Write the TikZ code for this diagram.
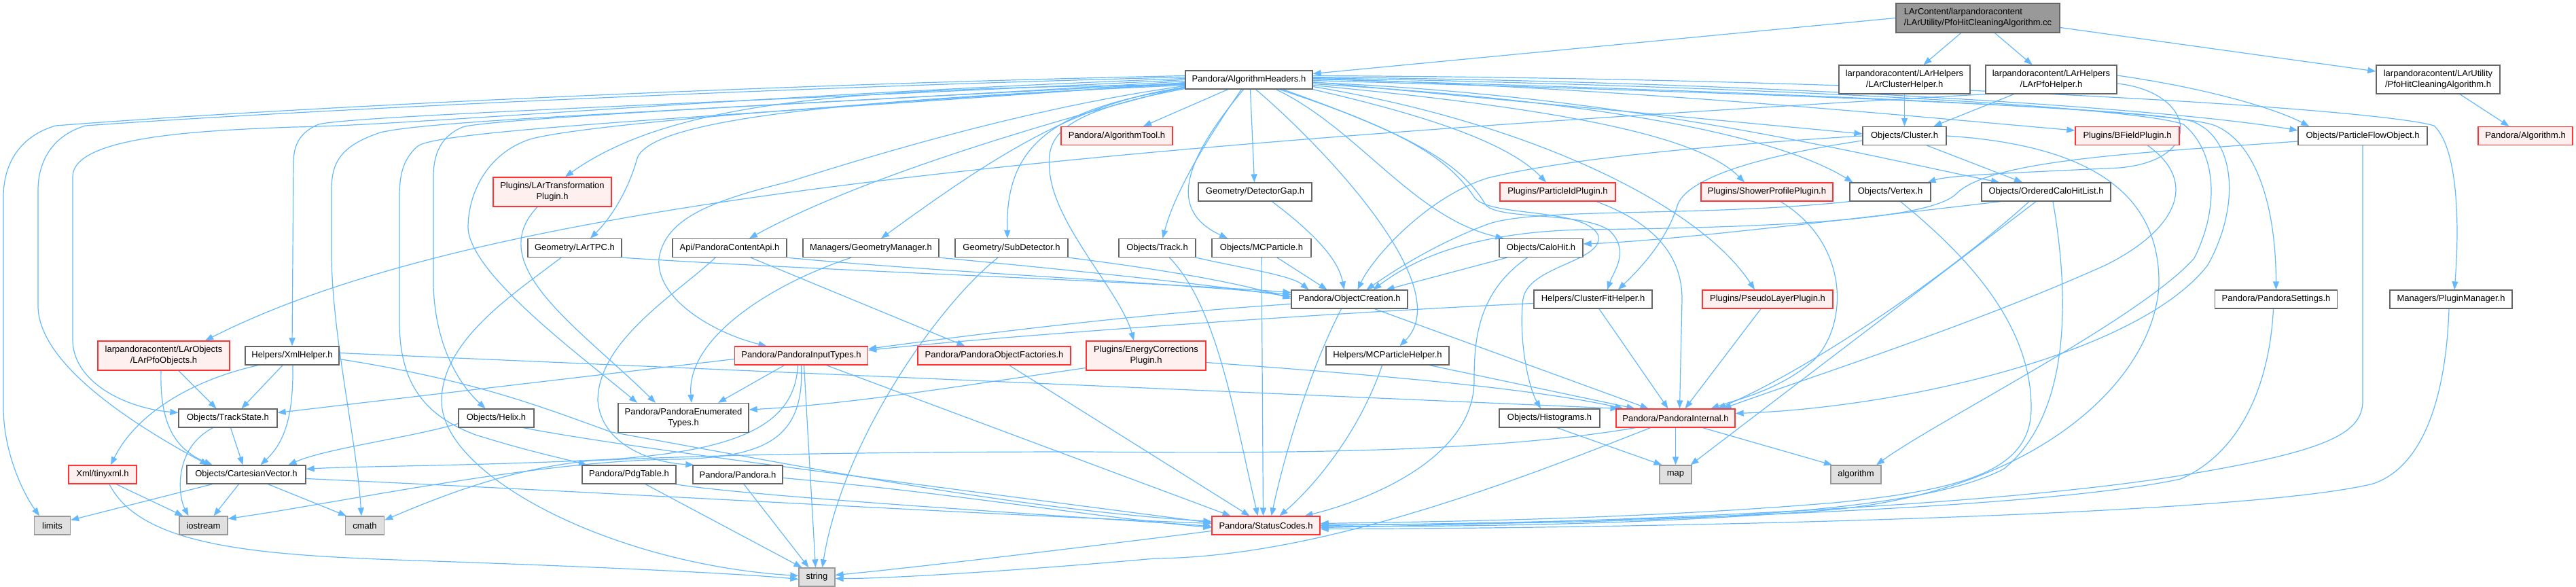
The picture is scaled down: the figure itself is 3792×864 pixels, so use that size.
\documentclass[tikz,border=0pt]{standalone}
\usepackage{fontspec}
\setmainfont{Liberation Sans}
\usetikzlibrary{arrows.meta}
\pgfdeclarelayer{edgelayer}
\pgfsetlayers{edgelayer,main}
\definecolor{edgec}{HTML}{63B8FF}
\definecolor{boxb}{HTML}{666666}
\definecolor{redb}{HTML}{FF3333}
\definecolor{redf}{HTML}{FFF0F0}
\definecolor{sysb}{HTML}{999999}
\definecolor{sysf}{HTML}{E0E0E0}
\definecolor{rootf}{HTML}{999999}
\begin{document}
\begin{tikzpicture}[x=1pt,y=-1pt,
  nb/.style={draw=boxb, fill=white, line width=1.3pt, inner sep=0pt, align=center, minimum height=27pt, font=\fontsize{13}{16}\selectfont},
  rb/.style={nb, draw=redb, fill=redf},
  sb/.style={nb, draw=sysb, fill=sysf},
  rtb/.style={nb, fill=rootf},
  ed/.style={draw=edgec, line width=1.2pt, -{Triangle[length=12pt,width=9pt]}},
]
\useasboundingbox (0,0) rectangle (3792,864);
% ---------- nodes ----------
\node[rtb, minimum width=241pt, minimum height=43pt, align=left] (root) at (2911.5,26.5) {LArContent/larpandoracontent\\/LArUtility/PfoHitCleaningAlgorithm.cc};
\node[nb, minimum width=187pt] (AH) at (1838.5,117.5) {Pandora/AlgorithmHeaders.h};
\node[nb, minimum width=193pt, minimum height=42pt] (CH) at (2803.5,117) {larpandoracontent/LArHelpers\\/LArClusterHelper.h};
\node[nb, minimum width=193pt, minimum height=42pt] (PH) at (3019.5,117) {larpandoracontent/LArHelpers\\/LArPfoHelper.h};
\node[nb, minimum width=182pt, minimum height=42pt] (PHA) at (3589,117) {larpandoracontent/LArUtility\\/PfoHitCleaningAlgorithm.h};
\node[rb, minimum width=164pt] (AT) at (1644,200) {Pandora/AlgorithmTool.h};
\node[nb, minimum width=123pt] (CL) at (2803.5,200) {Objects/Cluster.h};
\node[rb, minimum width=153pt] (BF) at (3131.5,200) {Plugins/BFieldPlugin.h};
\node[nb, minimum width=190pt] (PFO) at (3478,200) {Objects/ParticleFlowObject.h};
\node[rb, minimum width=139pt] (ALG) at (3717.5,200) {Pandora/Algorithm.h};
\node[rb, minimum width=174pt, minimum height=43pt] (LTP) at (813,282.5) {Plugins/LArTransformation\\Plugin.h};
\node[nb, minimum width=167pt] (DG) at (1847.5,282.5) {Geometry/DetectorGap.h};
\node[rb, minimum width=170pt] (PID) at (2293,282.5) {Plugins/ParticleIdPlugin.h};
\node[rb, minimum width=194pt] (SPP) at (2601,282.5) {Plugins/ShowerProfilePlugin.h};
\node[nb, minimum width=119pt] (VX) at (2782.5,282.5) {Objects/Vertex.h};
\node[nb, minimum width=190pt] (OCHL) at (3012,282.5) {Objects/OrderedCaloHitList.h};
\node[nb, minimum width=138pt] (TPC) at (846,365) {Geometry/LArTPC.h};
\node[nb, minimum width=168pt] (API) at (1074,365) {Api/PandoraContentApi.h};
\node[nb, minimum width=200pt] (GM) at (1282,365) {Managers/GeometryManager.h};
\node[nb, minimum width=166pt] (SD) at (1489,365) {Geometry/SubDetector.h};
\node[nb, minimum width=113pt] (TR) at (1703.5,365) {Objects/Track.h};
\node[nb, minimum width=146pt] (MC) at (1857,365) {Objects/MCParticle.h};
\node[nb, minimum width=123pt] (CAH) at (2268.5,365) {Objects/CaloHit.h};
\node[nb, minimum width=171pt] (OC) at (1986.5,440.5) {Pandora/ObjectCreation.h};
\node[nb, minimum width=174pt] (CFH) at (2345,440.5) {Helpers/ClusterFitHelper.h};
\node[rb, minimum width=192pt] (PLP) at (2602,440.5) {Plugins/PseudoLayerPlugin.h};
\node[nb, minimum width=180pt] (PS) at (3350.5,440.5) {Pandora/PandoraSettings.h};
\node[nb, minimum width=180pt] (PM) at (3608,440.5) {Managers/PluginManager.h};
\node[rb, minimum width=194pt, minimum height=43pt] (LPO) at (241,523.5) {larpandoracontent/LArObjects\\/LArPfoObjects.h};
\node[nb, minimum width=138pt] (XH) at (430,523.5) {Helpers/XmlHelper.h};
\node[rb, minimum width=196pt] (PIT) at (1179.5,523.5) {Pandora/PandoraInputTypes.h};
\node[rb, minimum width=225pt] (POF) at (1463.5,523.5) {Pandora/PandoraObjectFactories.h};
\node[rb, minimum width=176pt, minimum height=43pt] (ECP) at (1687,523.5) {Plugins/EnergyCorrections\\Plugin.h};
\node[nb, minimum width=181pt] (MCH) at (2042.5,523.5) {Helpers/MCParticleHelper.h};
\node[nb, minimum width=145pt] (TS) at (335.5,615.5) {Objects/TrackState.h};
\node[nb, minimum width=111pt] (HX) at (730.5,615.5) {Objects/Helix.h};
\node[nb, minimum width=192pt, minimum height=43pt] (PET) at (1006,615) {Pandora/PandoraEnumerated\\Types.h};
\node[nb, minimum width=148pt] (HIST) at (2281,615.5) {Objects/Histograms.h};
\node[rb, minimum width=175pt] (PI) at (2466.5,615.5) {Pandora/PandoraInternal.h};
\node[rb, minimum width=100pt] (TX) at (151,698.5) {Xml/tinyxml.h};
\node[nb, minimum width=175pt] (CV) at (362.5,698.5) {Objects/CartesianVector.h};
\node[nb, minimum width=138pt] (PDG) at (926,698.5) {Pandora/PdgTable.h};
\node[nb, minimum width=132pt] (PAN) at (1086,698.5) {Pandora/Pandora.h};
\node[sb, minimum width=47pt] (MAP) at (2466.5,698.5) {map};
\node[sb, minimum width=74pt] (ALGO) at (2732,698.5) {algorithm};
\node[sb, minimum width=53pt] (LIM) at (77,773.5) {limits};
\node[sb, minimum width=71pt] (IOS) at (299.5,773.5) {iostream};
\node[sb, minimum width=57pt] (CM) at (537,773.5) {cmath};
\node[rb, minimum width=159pt] (SC) at (1863.5,773.5) {Pandora/StatusCodes.h};
\node[sb, minimum width=53pt] (STR) at (1202.5,849.5) {string};
% ---------- edges ----------
\begin{pgfonlayer}{edgelayer}
% root
\draw[ed] (root.west) -- ([yshift=9pt]AH.east);
\draw[ed] ([xshift=-25pt]root.south) -- ([xshift=28pt]CH.north);
\draw[ed] ([xshift=25pt]root.south) -- ([xshift=-28pt]PH.north);
\draw[ed] ([yshift=-14pt]root.east) -- ([yshift=12pt]PHA.west);
\draw[ed] ([xshift=32pt]PHA.south) -- ([xshift=-24pt]ALG.north);
\draw[ed] (CH.south) -- (CL.north);
\draw[ed] ([xshift=-55pt]PH.south) -- ([xshift=43pt]CL.north);
\draw[ed] ([yshift=6pt]PH.east) .. controls (3250,130) and (3350,160) .. ([xshift=-79pt]PFO.north);
\draw[ed] (PH.south west) .. controls (1500,220) and (700,300) .. ([xshift=61pt]LPO.north);
\draw[ed] ([yshift=-6pt]PH.east) .. controls (3230,135) and (3250,235) .. (3120,247) .. controls (2950,255) and (2870,258) .. ([xshift=55pt]VX.north);
% AH to the left
\draw[ed] ([yshift=6pt]AH.west) .. controls (1100,125) and (400,160) .. (82,185) .. controls (30,200) and (5,240) .. (5,290) -- (5,600) .. controls (5,660) and (30,720) .. ([xshift=-19pt]LIM.north);
\draw[ed] ([yshift=4pt]AH.west) .. controls (1100,130) and (400,165) .. (126,185) .. controls (75,200) and (56,240) .. (56,280) -- (56,450) .. controls (56,520) and (150,600) .. ([xshift=-56pt]CV.north);
\draw[ed] ([yshift=2pt]AH.west) .. controls (1100,140) and (600,185) .. (432,187) .. controls (300,192) and (107,200) .. (107,260) -- (107,500) .. controls (107,560) and (180,600) .. ([yshift=8pt]TS.west);
\draw[ed] (AH.west) .. controls (1100,150) and (520,170) .. (469,183) .. controls (440,195) and (432,215) .. (432,240) -- (XH.north);
\draw[ed] ([yshift=-2pt]AH.west) .. controls (1100,160) and (640,175) .. (560,195) .. controls (500,215) and (488,240) .. (488,280) -- (488,380) .. controls (490,500) and (525,650) .. ([xshift=-5pt]CM.north);
\draw[ed] ([yshift=-4pt]AH.west) .. controls (1100,170) and (650,190) .. (615,215) .. controls (592,235) and (588,260) .. (588,290) -- (588,480) .. controls (590,560) and (620,610) .. (700,640) .. controls (780,665) and (830,675) .. ([xshift=-62pt]PDG.north);
\draw[ed] ([yshift=-5pt]AH.west) .. controls (1200,150) and (720,175) .. (681,187) .. controls (650,200) and (638,225) .. (638,260) -- (638,420) .. controls (640,500) and (670,560) .. ([xshift=-16pt]HX.north);
\draw[ed] ([yshift=-6pt]AH.west) .. controls (1200,155) and (850,185) .. (780,205) .. controls (720,225) and (690,280) .. (689,333) .. controls (688,400) and (850,520) .. ([xshift=-68pt]PET.north);
\draw[ed] ([yshift=-7pt]AH.west) .. controls (1300,130) and (1000,140) .. ([xshift=19pt]LTP.north);
\draw[ed] ([yshift=-8pt]AH.west) .. controls (1300,145) and (960,170) .. (938,233) .. controls (925,280) and (900,320) .. ([xshift=23pt]TPC.north);
\draw[ed] ([yshift=-9pt]AH.west) .. controls (1500,160) and (1250,240) .. (1163,267) .. controls (1050,295) and (980,320) .. (970,380) .. controls (965,440) and (1050,490) .. ([xshift=-51pt]PIT.north);
\draw[ed] ([yshift=-10pt]AH.west) .. controls (1500,190) and (1250,270) .. ([xshift=29pt]API.north);
\draw[ed] ([yshift=-11pt]AH.west) .. controls (1580,150) and (1450,240) .. ([xshift=15pt]GM.north);
\draw[ed] ([yshift=-12pt]AH.west) .. controls (1540,160) and (1480,220) .. ([xshift=-6pt]SD.north);
\draw[ed] ([yshift=-13pt]AH.west) .. controls (1560,165) and (1540,200) .. (1545,250) .. controls (1550,330) and (1650,430) .. ([xshift=-18pt]ECP.north);
% AH downwards
\draw[ed] ([xshift=-31pt]AH.south) -- ([xshift=39pt]AT.north);
\draw[ed] ([xshift=-11pt]AH.south) .. controls (1780,200) and (1730,280) .. ([xshift=8pt]TR.north);
\draw[ed] ([xshift=-8pt]AH.south) .. controls (1740,240) and (1720,310) .. ([xshift=-50pt]MC.north);
\draw[ed] ([xshift=2pt]AH.south) -- ([xshift=-1pt]DG.north);
\draw[ed] ([xshift=10pt]AH.south) .. controls (1930,200) and (2150,420) .. ([xshift=18pt]MCH.north);
\draw[ed] ([xshift=40pt]AH.south) .. controls (2000,190) and (2080,320) .. ([xshift=-55pt]CAH.north);
\draw[ed] (AH.south east) .. controls (2100,170) and (2220,210) .. ([xshift=-17pt]PID.north);
\draw[ed] ([xshift=50pt]AH.south) .. controls (2080,200) and (2150,240) .. (2186,300) .. controls (2200,325) and (2330,310) .. (2370,340) .. controls (2400,370) and (2375,400) .. ([xshift=21pt]CFH.north);
\draw[ed] ([xshift=45pt]AH.south) .. controls (2060,190) and (2130,230) .. (2170,290) .. controls (2190,320) and (2330,305) .. (2352,345) .. controls (2365,385) and (2250,390) .. (2242,440) .. controls (2235,500) and (2250,570) .. ([xshift=-13pt]HIST.north);
% AH to the right
\draw[ed] ([yshift=-3pt]AH.east) -- ([yshift=3pt]CL.west);
\draw[ed] ([yshift=-8pt]AH.east) .. controls (2300,160) and (2500,200) .. ([xshift=-33pt]SPP.north);
\draw[ed] ([yshift=-6pt]AH.east) .. controls (2300,145) and (2600,190) .. ([xshift=-55pt]VX.north);
\draw[ed] ([yshift=-4pt]AH.east) .. controls (2400,140) and (2750,230) .. ([xshift=-69pt]OCHL.north);
\draw[ed] ([yshift=2pt]AH.east) .. controls (2400,130) and (2800,170) .. ([yshift=8pt]BF.west);
\draw[ed] ([yshift=-10pt]AH.east) .. controls (2250,180) and (2500,300) .. ([xshift=-19pt]PLP.north);
\draw[ed] ([yshift=4pt]AH.east) .. controls (2600,120) and (3200,160) .. ([yshift=8pt]PFO.west);
\draw[ed] ([yshift=1pt]AH.east) .. controls (2600,135) and (3200,160) .. (3261,185) .. controls (3320,210) and (3350,300) .. (PS.north);
\draw[ed] ([yshift=6pt]AH.east) .. controls (2800,115) and (3500,160) .. (3583,185) .. controls (3620,220) and (3620,340) .. ([xshift=5pt]PM.north);
\draw[ed] ([yshift=3pt]AH.east) .. controls (2700,130) and (3150,160) .. (3214,183) .. controls (3260,220) and (3270,300) .. (3230,380) .. controls (3150,470) and (2850,620) .. ([xshift=30pt]ALGO.north);
\draw[ed] ([yshift=-1pt]AH.east) .. controls (2700,140) and (3150,160) .. (3225,178) .. controls (3290,200) and (3300,300) .. (3250,390) .. controls (3150,520) and (2800,600) .. ([yshift=7pt]PI.east);
% plugin / geometry layer
\draw[ed] ([xshift=-22pt]LTP.south) .. controls (710,390) and (850,480) .. ([xshift=-41pt]PET.north);
\draw[ed] (TPC.south east) .. controls (1200,398) and (1700,415) .. ([yshift=10pt]OC.west);
\draw[ed] ([xshift=-20pt]TPC.south) .. controls (760,430) and (650,500) .. (650,590) .. controls (650,700) and (900,830) .. ([yshift=2pt]STR.west);
\draw[ed] (API.south east) .. controls (1350,398) and (1700,415) .. ([yshift=7pt]OC.west);
\draw[ed] ([xshift=-21pt]API.south) .. controls (1000,430) and (880,500) .. (880,590) .. controls (885,650) and (950,680) .. ([xshift=2pt]PAN.north west);
\draw[ed] ([xshift=31pt]API.south) -- ([xshift=-43pt]POF.north);
\draw[ed] (GM.south east) .. controls (1550,395) and (1750,415) .. ([yshift=4pt]OC.west);
\draw[ed] ([xshift=-29pt]GM.south) .. controls (1130,420) and (1010,500) .. ([xshift=12pt]PET.north);
\draw[ed] (SD.south east) .. controls (1700,395) and (1820,415) .. ([yshift=1pt]OC.west);
\draw[ed] ([xshift=-20pt]SD.south) .. controls (1380,450) and (1240,650) .. ([xshift=8pt]STR.north);
\draw[ed] (TR.south east) .. controls (1830,395) and (1900,405) .. ([xshift=-60pt]OC.north);
\draw[ed] ([xshift=18pt]TR.south) .. controls (1790,450) and (1815,600) .. ([xshift=-12pt]SC.north);
\draw[ed] ([xshift=23pt]MC.south) -- ([xshift=-33pt]OC.north);
\draw[ed] (MC.south) -- ([xshift=-4pt]SC.north);
\draw[ed] ([xshift=25pt]DG.south) .. controls (1930,340) and (1970,380) .. ([xshift=-8pt]OC.north);
\draw[ed] ([xshift=-50pt]CAH.south) -- ([xshift=54pt]OC.north);
\draw[ed] ([xshift=-20pt]CAH.south) .. controls (2175,430) and (2170,500) .. (2170,560) .. controls (2170,680) and (2000,740) .. ([xshift=57pt]SC.north);
% cluster / hits
\draw[ed] (CL.west) .. controls (2500,215) and (2300,235) .. (2190,262) .. controls (2100,290) and (2020,380) .. ([xshift=12pt]OC.north);
\draw[ed] ([yshift=-7pt]CL.west) .. controls (2620,225) and (2490,255) .. (2470,300) .. controls (2455,350) and (2420,390) .. ([xshift=37pt]CFH.north);
\draw[ed] ([xshift=33pt]CL.south) -- ([xshift=-35pt]OCHL.north);
\draw[ed] (CL.east) .. controls (3100,215) and (3180,300) .. (3178,420) .. controls (3170,560) and (3000,720) .. (2700,750) .. controls (2400,775) and (2100,775) .. ([yshift=-1pt]SC.east);
\draw[ed] ([xshift=-67pt]OCHL.south) .. controls (2700,325) and (2450,355) .. ([yshift=6pt]CAH.east);
\draw[ed] ([xshift=-25pt]OCHL.south) .. controls (2850,420) and (2650,550) .. ([xshift=62pt]PI.north);
\draw[ed] ([xshift=-15pt]OCHL.south) -- ([xshift=22pt]MAP.north);
\draw[ed] ([xshift=10pt]OCHL.south) .. controls (3040,400) and (3060,600) .. (2950,690) .. controls (2800,770) and (2300,770) .. ([yshift=1pt]SC.east);
\draw[ed] (VX.south west) .. controls (2500,320) and (2260,305) .. (2190,330) .. controls (2110,360) and (2050,400) .. ([xshift=25pt]OC.north);
\draw[ed] ([xshift=15pt]VX.south) .. controls (2900,380) and (2990,480) .. (2990,600) .. controls (2990,690) and (2900,720) .. (2700,740) .. controls (2400,765) and (2100,768) .. ([yshift=3pt]SC.east);
\draw[ed] ([yshift=-8pt]PFO.west) .. controls (3150,225) and (2930,235) .. (2880,285) .. controls (2840,325) and (2600,335) .. (2330,338) .. controls (2150,342) and (2070,390) .. ([xshift=35pt]OC.north);
\draw[ed] (PFO.south) -- (3478,590) .. controls (3478,640) and (3420,665) .. (3210,700) .. controls (2900,750) and (2300,770) .. ([yshift=-3pt]SC.east);
\draw[ed] ([xshift=-4pt]PS.south) .. controls (3340,580) and (3290,670) .. (3210,705) .. controls (3000,750) and (2400,768) .. (SC.east);
\draw[ed] ([xshift=-3pt]PM.south) .. controls (3600,600) and (3560,690) .. (3493,712) .. controls (3300,760) and (2400,778) .. ([yshift=-5pt]SC.east);
\draw[ed] ([xshift=30pt]BF.south) .. controls (3240,270) and (3200,340) .. (3100,390) .. controls (2900,480) and (2650,560) .. ([xshift=70pt]PI.north);
\draw[ed] ([xshift=20pt]SPP.south) .. controls (2725,360) and (2720,480) .. (2670,530) .. controls (2620,575) and (2550,590) .. ([xshift=52pt]PI.north);
\draw[ed] ([xshift=-10pt]PLP.south) -- ([xshift=14pt]PI.north);
\draw[ed] ([xshift=57pt]PID.south) .. controls (2440,330) and (2476,380) .. (2476,440) -- ([xshift=6pt]PI.north);
\draw[ed] ([xshift=9pt]CFH.south) -- ([xshift=-11pt]PI.north);
\draw[ed] ([yshift=-6pt]CFH.west) .. controls (2000,458) and (1500,492) .. ([yshift=8pt]PIT.east);
\draw[ed] ([yshift=-7pt]OC.west) .. controls (1700,460) and (1450,490) .. ([yshift=10pt]PIT.east);
\draw[ed] ([xshift=-12pt]OC.south) .. controls (1935,530) and (1895,650) .. ([xshift=8pt]SC.north);
\draw[ed] ([xshift=37pt]OC.south) -- ([xshift=-40pt]PI.north);
\draw[ed] ([xshift=-8pt]MCH.south) .. controls (2000,640) and (1930,720) .. ([xshift=20pt]SC.north);
\draw[ed] ([xshift=62pt]MCH.south) -- ([xshift=-60pt]PI.north);
\draw[ed] ([xshift=22pt]POF.south) -- ([xshift=-24pt]SC.north);
\draw[ed] ([yshift=-18pt]ECP.west) .. controls (1400,570) and (1250,595) .. ([yshift=12pt]PET.east);
\draw[ed] ([yshift=-10pt]ECP.east) .. controls (2000,550) and (2250,570) .. ([xshift=-77pt]PI.north);
% left part
\draw[ed] ([yshift=4pt]XH.east) -- ([xshift=-84pt]PI.north);
\draw[ed] ([yshift=-5pt]XH.east) .. controls (700,560) and (800,600) .. (900,636) .. controls (1200,690) and (1500,750) .. ([yshift=6pt]SC.west);
\draw[ed] ([xshift=-14pt]XH.south) -- ([xshift=20pt]TS.north);
\draw[ed] ([xshift=1pt]XH.south) .. controls (432,610) and (420,650) .. ([xshift=21pt]CV.north);
\draw[ed] ([xshift=-50pt]XH.south) .. controls (280,560) and (200,610) .. ([xshift=12pt]TX.north);
\draw[ed] ([xshift=22pt]LPO.south) -- ([xshift=-17pt]TS.north);
\draw[ed] ([xshift=-4pt]LPO.south) .. controls (235,620) and (255,660) .. ([xshift=-50pt]CV.north);
\draw[ed] ([xshift=4pt]TS.south) -- ([xshift=-5pt]CV.north);
\draw[ed] ([xshift=-22pt]TS.south) .. controls (255,660) and (262,730) .. ([xshift=-22pt]IOS.north);
\draw[ed] ([xshift=-50pt]CV.south) -- ([yshift=8pt]LIM.east);
\draw[ed] ([xshift=-11pt]CV.south) -- ([xshift=15pt]IOS.north);
\draw[ed] ([xshift=32pt]CV.south) -- ([xshift=-27pt]CM.north);
\draw[ed] ([yshift=-6pt]CV.east) .. controls (900,725) and (1400,755) .. ([yshift=3pt]SC.west);
\draw[ed] ([yshift=-8pt]HX.west) .. controls (600,645) and (480,660) .. ([xshift=62pt]CV.north);
\draw[ed] ([xshift=40pt]HX.south) .. controls (900,655) and (1250,700) .. ([yshift=4pt]SC.west);
\draw[ed] ([xshift=24pt]PDG.south) -- ([xshift=-22pt]STR.north);
\draw[ed] ([xshift=-2pt]PDG.south east) .. controls (1100,730) and (1500,755) .. ([yshift=-1pt]SC.west);
\draw[ed] ([xshift=9pt]PAN.south) -- ([xshift=-12pt]STR.north);
\draw[ed] ([yshift=-5pt]PAN.east) .. controls (1400,725) and (1600,760) .. ([yshift=-3pt]SC.west);
\draw[ed] ([yshift=-5pt]PIT.west) -- ([yshift=8pt]TS.east);
\draw[ed] ([xshift=-25pt]PIT.south) -- ([xshift=51pt]PET.north);
\draw[ed] ([xshift=-5pt]PIT.south) .. controls (1170,620) and (1100,662) .. (900,676) .. controls (700,686) and (520,686) .. ([yshift=8pt]CV.east);
\draw[ed] (PIT.south) .. controls (1185,650) and (1120,672) .. (1000,676) .. controls (800,676) and (500,740) .. ([yshift=10pt]IOS.east);
\draw[ed] ([xshift=4pt]PIT.south) -- ([xshift=-2pt]STR.north);
\draw[ed] ([xshift=37pt]PIT.south) -- ([xshift=-52pt]SC.north);
\draw[ed] ([xshift=20pt]TX.south) -- ([xshift=-30pt]IOS.north);
\draw[ed] ([xshift=10pt]TX.south) .. controls (210,810) and (400,818) .. (640,826) .. controls (900,835) and (1100,845) .. ([yshift=-3pt]STR.west);
\draw[ed] ([yshift=-8pt]SC.west) .. controls (1600,805) and (1350,835) .. ([yshift=3pt]STR.east);
\draw[ed] ([xshift=-37pt]PI.south) .. controls (2250,700) and (1950,820) .. (1700,822) .. controls (1500,840) and (1300,852) .. ([yshift=-2pt]STR.east);
\draw[ed] (PI.south) -- (MAP.north);
\draw[ed] ([xshift=40pt]PI.south) -- ([xshift=-35pt]ALGO.north);
\draw[ed] ([xshift=-59pt]PI.south) .. controls (2200,665) and (1900,668) .. (1600,665) .. controls (1200,665) and (1000,672) .. (870,678) .. controls (750,690) and (650,730) .. ([yshift=8pt]CM.east);
\draw[ed] ([xshift=11pt]HIST.south) -- ([xshift=-20pt]MAP.north);
\end{pgfonlayer}
\end{tikzpicture}
\end{document}
